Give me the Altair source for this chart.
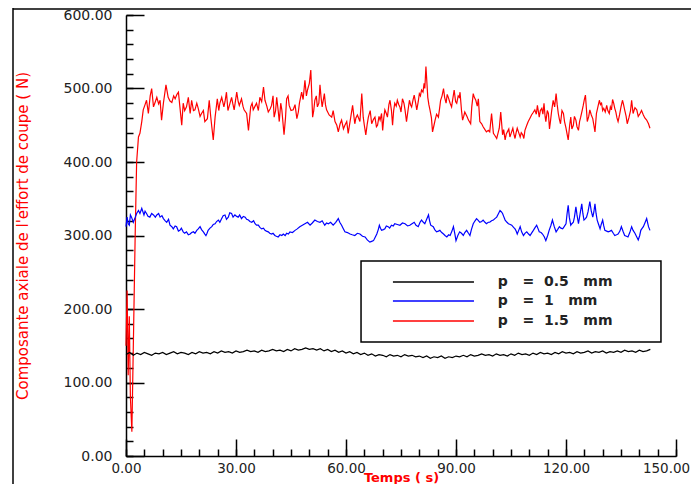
import altair as alt
import pandas as pd

# ---------------- data ----------------
red_t = [0.0,0.3,0.6,0.9,1.2,1.6,2.1,2.5,2.9,3.4,3.8,4.3,4.7,5.2,5.6,6.1,6.6,7.0,7.5,8.0,8.4,8.9,9.3,9.7,10.2,10.9,11.5,12.0,12.5,13.0,13.4,13.9,14.3,14.7,15.2,15.6,16.0,16.5,17.0,17.5,17.9,18.4,18.8,19.3,19.7,20.2,20.6,21.1,21.5,22.2,22.7,23.1,23.4,23.8,24.3,24.9,25.3,25.6,26.1,26.7,27.0,27.4,27.8,28.2,28.8,29.1,29.5,30.2,30.6,30.9,31.5,31.9,32.2,32.9,33.4,34.0,34.4,34.7,35.2,35.6,36.1,36.5,37.0,37.5,37.9,38.4,38.8,39.3,39.7,40.1,40.4,40.8,41.1,41.5,41.8,42.2,42.5,43.1,43.5,43.8,44.2,44.5,45.0,45.6,46.1,46.6,47.0,47.3,47.9,48.3,48.8,49.2,49.5,50.0,50.4,50.9,51.2,51.5,51.9,52.2,52.6,52.9,53.2,53.5,54.1,54.4,54.7,55.4,56.1,56.5,57.0,57.5,57.9,58.4,58.8,59.3,59.7,60.2,60.6,61.3,61.8,62.4,62.7,63.1,63.8,64.3,64.7,65.0,65.4,65.8,66.1,66.6,67.0,67.5,67.9,68.3,68.6,69.0,69.3,69.7,70.0,70.3,70.6,71.0,71.3,71.7,72.0,72.4,72.7,73.0,73.3,73.7,74.0,74.4,74.7,75.0,75.4,75.8,76.1,76.5,76.9,77.3,77.6,77.9,78.3,78.6,79.0,79.3,79.7,80.0,80.3,80.6,81.0,81.3,81.5,81.8,82.1,82.3,82.6,82.9,83.3,83.6,84.0,84.3,84.7,85.2,85.5,85.8,86.2,86.6,86.9,87.3,87.6,87.9,88.4,88.8,89.1,89.5,89.9,90.2,90.6,90.9,91.1,91.5,91.8,92.1,92.4,93.0,93.4,94.0,94.3,94.7,95.0,95.4,95.8,96.1,96.5,97.0,97.4,97.9,98.3,98.8,99.2,99.7,100.2,100.6,101.1,101.5,101.8,102.2,102.7,103.0,103.4,103.7,104.0,104.4,104.7,105.1,105.5,105.8,106.1,106.4,106.7,107.1,107.5,107.8,108.2,108.5,108.8,109.3,109.7,110.2,110.6,111.0,111.5,111.9,112.2,112.7,113.0,113.4,113.7,114.0,114.3,114.5,114.9,115.2,115.5,115.8,116.1,116.5,116.9,117.3,117.6,117.9,118.2,118.5,118.9,119.3,119.6,120.0,120.3,120.6,121.0,121.3,121.6,122.0,122.3,122.7,123.0,123.4,123.7,124.0,124.4,124.7,125.0,125.3,125.6,125.8,126.2,126.5,126.9,127.3,127.6,127.9,128.3,128.7,129.1,129.4,129.7,130.0,130.3,130.7,131.1,131.4,131.8,132.1,132.4,132.7,133.0,133.3,133.6,133.9,134.2,134.6,135.0,135.4,135.7,136.0,136.4,136.7,137.2,137.6,137.9,138.3,138.8,139.3,139.7,140.2,140.6,141.1,141.5,142.0,142.5,142.9]
red_v = [150,225,110,190,80,33,180,300,400,434,439,455,471,478,484,466,490,500,475,482,488,479,484,457,480,505,488,483,481,490,486,492,495,475,450,480,470,475,488,466,484,470,471,480,473,462,466,470,455,459,484,462,448,430,461,486,470,480,488,475,482,495,470,477,488,480,471,495,482,477,486,476,471,466,443,475,480,471,476,480,470,488,482,502,484,476,468,472,477,490,461,470,488,470,455,480,471,437,460,486,490,477,470,471,478,459,468,480,495,485,511,490,498,507,525,461,470,484,490,475,480,505,488,475,493,478,471,464,461,470,455,450,441,452,457,445,450,455,439,461,477,452,460,464,455,493,461,450,437,452,461,470,452,458,461,448,450,462,457,466,443,460,471,466,461,478,484,470,450,470,480,476,484,478,475,468,486,480,471,455,470,484,478,475,485,491,480,471,482,493,490,498,495,507,500,530,505,488,478,471,460,441,450,457,465,461,472,484,490,500,488,480,492,488,480,475,485,498,482,480,490,488,495,470,457,462,468,462,457,452,475,493,488,484,476,486,455,452,448,444,441,443,441,466,439,436,432,440,446,468,437,444,430,438,441,445,434,440,446,438,432,440,446,440,434,440,437,432,443,450,455,460,464,467,471,465,477,461,470,473,465,480,462,455,470,466,445,457,470,484,475,493,478,466,458,452,470,466,455,446,438,430,450,461,445,450,462,457,448,443,455,461,470,477,485,491,470,455,462,471,464,459,450,441,466,475,484,478,480,470,473,468,477,470,466,475,471,485,480,473,468,460,455,464,475,484,478,471,462,452,461,470,484,466,474,471,462,466,470,464,460,457,452,446]

blue_t = [0.0,0.3,0.6,0.9,1.2,1.5,2.0,2.4,2.9,3.4,3.8,4.3,4.9,5.2,5.6,6.0,6.5,7.0,7.5,8.0,8.4,8.9,9.3,9.8,10.2,10.7,11.1,11.6,12.0,12.5,12.9,13.4,13.8,14.3,14.7,15.1,15.6,16.0,16.5,17.0,17.5,17.9,18.4,18.8,19.3,19.7,20.2,20.6,21.1,21.5,21.8,22.1,22.4,22.9,23.4,23.8,24.3,24.7,25.2,25.6,26.1,26.5,27.0,27.4,27.9,28.3,28.8,29.2,29.7,30.2,30.6,31.0,31.5,32.0,32.5,32.9,33.4,33.8,34.3,34.8,35.2,35.6,36.1,36.5,37.0,37.5,37.9,38.3,38.8,39.2,39.7,40.1,40.6,41.0,41.5,42.0,42.5,42.9,43.4,43.8,44.3,44.7,45.4,46.1,46.7,47.4,48.1,48.8,49.5,50.2,50.8,51.5,52.2,52.9,53.5,54.2,54.7,55.2,55.8,56.5,57.2,57.9,58.3,58.8,59.2,59.7,60.4,61.1,61.7,62.4,63.1,63.8,64.5,65.2,65.8,66.5,67.0,67.5,67.9,68.4,68.8,69.1,69.4,69.7,70.2,70.6,71.0,71.5,71.9,72.4,72.9,73.3,74.0,74.7,75.4,76.1,76.8,77.4,78.0,78.6,79.1,79.7,80.2,80.6,81.1,81.5,82.0,82.5,82.8,83.1,83.8,84.2,84.7,85.2,85.6,86.1,86.6,87.0,87.5,88.0,88.4,88.9,89.3,89.7,90.0,90.5,91.0,91.5,92.0,92.4,92.9,93.4,93.8,94.2,94.7,95.2,95.6,96.0,96.5,97.0,97.4,97.9,98.3,98.8,99.2,99.7,100.2,100.6,101.1,101.6,102.0,102.4,102.7,103.0,103.4,103.9,104.3,104.8,105.2,105.7,106.1,106.4,106.7,107.1,107.5,107.9,108.4,108.8,109.3,109.8,110.2,110.7,111.1,111.6,112.0,112.4,112.7,113.2,113.6,114.1,114.5,115.0,115.4,115.9,116.3,116.8,117.3,117.7,118.2,118.6,119.1,119.5,120.0,120.3,120.6,120.9,121.3,121.6,122.0,122.3,122.7,123.0,123.4,123.8,124.3,124.6,124.9,125.3,125.6,126.0,126.5,126.9,127.3,127.6,127.9,128.2,128.5,128.9,129.3,129.6,130.0,130.3,130.6,131.1,131.5,132.0,132.4,132.9,133.3,133.8,134.2,134.7,135.1,135.6,136.0,136.5,136.9,137.4,137.9,138.3,138.8,139.3,139.7,140.1,140.4,140.8,141.1,141.6,142.0,142.5,142.9]
blue_v = [312,325,316,314,328,325,318,323,330,334,330,337,328,333,330,326,325,330,328,325,328,330,325,327,323,320,318,322,314,312,309,313,312,306,307,310,305,303,305,301,302,304,305,303,307,309,312,308,305,302,300,303,307,310,312,315,316,319,321,318,323,327,328,322,325,331,330,325,328,326,325,328,323,326,325,322,321,319,318,320,316,314,314,311,309,310,307,306,305,303,302,303,300,299,298,301,300,302,300,303,302,305,304,307,309,312,314,316,318,314,317,321,319,318,320,314,317,316,318,314,318,323,318,314,310,305,304,302,301,300,303,302,299,298,294,291,292,293,297,302,308,314,310,307,308,309,313,312,310,314,313,316,315,314,317,316,313,314,316,318,314,312,318,321,318,316,322,328,320,314,312,308,305,306,307,304,302,300,298,301,300,306,312,302,293,300,305,303,300,304,307,303,300,308,316,320,323,321,318,319,321,318,316,318,318,320,321,323,325,330,334,332,330,326,321,318,316,315,314,311,309,306,302,307,312,305,300,303,305,302,300,304,307,311,314,309,305,304,302,298,293,300,307,314,321,312,305,308,312,310,309,312,316,330,341,325,314,316,318,325,339,328,316,328,343,330,321,323,325,332,346,333,325,332,343,330,321,315,309,315,321,313,307,306,305,306,307,303,300,301,302,306,312,305,300,299,298,304,312,307,303,298,294,300,307,310,312,318,323,312,307]

black_t = list(range(0, 144))
black_v = [138,141,137,140,138,141,139,137,140,139,141,138,140,142,139,141,140,138,141,139,142,140,141,139,142,140,143,141,142,140,143,141,142,144,142,143,141,144,142,143,145,143,144,142,145,143,146,144,145,147,145,146,144,146,143,145,142,144,141,143,140,142,139,141,138,140,137,139,136,138,137,135,138,136,137,135,138,136,137,135,136,134,136,133,135,134,136,133,135,134,136,135,137,135,138,136,137,139,137,138,136,139,137,138,136,139,137,140,138,139,137,140,138,141,139,140,138,141,139,142,140,141,139,142,140,141,143,140,142,141,143,140,142,141,143,141,144,142,143,141,144,142,143,145]

x_ticks = [0, 30, 60, 90, 120, 150]
y_ticks = [0, 100, 200, 300, 400, 500, 600]
x_minor = list(range(0, 151, 5))
y_minor = list(range(0, 601, 20))

legend_labels = ["p\u00a0\u00a0\u00a0=\u00a0\u00a00.5\u00a0\u00a0\u00a0mm", "p\u00a0\u00a0\u00a0=\u00a0\u00a01\u00a0\u00a0\u00a0mm", "p\u00a0\u00a0\u00a0=\u00a0\u00a01.5\u00a0\u00a0\u00a0mm"]
legend_colors = ["#000000", "#0000ff", "#ff0000"]
legend_keys = ["a", "b", "c"]
legend_v = [236.7, 210.9, 183.7]
legend_x1 = [72.8, 72.8, 72.8]
legend_x2 = [94.9, 94.9, 94.9]
legend_tx = [101.4, 101.4, 101.4]
box_t = [64.1]
box_t2 = [145.9]
box_v = [155.1]
box_v2 = [265.3]

# ---------------- chart ----------------
W, H = 550, 441
xs = alt.Scale(domain=[0, 150], nice=False, zero=False)
ys = alt.Scale(domain=[0, 600], nice=False, zero=False)

red_df = pd.DataFrame({"t": red_t, "v": red_v})
blue_df = pd.DataFrame({"t": blue_t, "v": blue_v})
black_df = pd.DataFrame({"t": black_t, "v": black_v})
leg_df = pd.DataFrame({"k": legend_keys, "lab": legend_labels, "v": legend_v,
                       "x1": legend_x1, "x2": legend_x2, "tx": legend_tx})
box_df = pd.DataFrame({"t": box_t, "t2": box_t2, "v": box_v, "v2": box_v2})

font = "DejaVu Sans"

x_label_axis = alt.Axis(orient="bottom", values=x_ticks, format=".2f", ticks=False, tickSize=0,
                        domain=True, domainColor="black", domainWidth=1.5, grid=False,
                        labelFont=font, labelFontSize=13.5, labelColor="#222222", labelPadding=5,
                        labelFlush=False, labelOverlap=False,
                        labelOffset={"condition": {"test": "datum.value == 150", "value": -10}, "value": 0},
                        title="Temps ( s)", titleColor="#ff0000", titleFont=font, titleFontSize=13,
                        titleFontWeight="bold", titleX=275, titleY=28, titleAlign="center",
                        titleBaseline="bottom", titleAngle=0)
y_label_axis = alt.Axis(orient="left", values=y_ticks, format=".2f", ticks=False, tickSize=0,
                        domain=True, domainColor="black", domainWidth=1.5, grid=False,
                        labelFont=font, labelFontSize=14, labelColor="#222222", labelPadding=14,
                        labelFlush=False, labelOverlap=False,
                        title="Composante axiale de l'effort de coupe ( N)", titleColor="#ff0000",
                        titleFont=font, titleFontSize=15, titleFontWeight="normal",
                        titleX=-104, titleY=220.5, titleAngle=270, titleAlign="center",
                        titleBaseline="middle")
x_major_axis = alt.Axis(orient="top", offset=-H, values=x_ticks, labels=False, domain=False,
                        ticks=True, tickSize=17, tickColor="black", tickWidth=1.5, grid=False, title=None)
y_major_axis = alt.Axis(orient="right", offset=-W, values=y_ticks, labels=False, domain=False,
                        ticks=True, tickSize=18, tickColor="black", tickWidth=1.5, grid=False, title=None)
x_minor_axis = alt.Axis(orient="top", offset=-H, values=x_minor, labels=False, domain=False,
                        ticks=True, tickSize=7, tickColor="black", tickWidth=1.5, grid=False, title=None)
y_minor_axis = alt.Axis(orient="right", offset=-W, values=y_minor, labels=False, domain=False,
                        ticks=True, tickSize=7, tickColor="black", tickWidth=1.5, grid=False, title=None)

red = alt.Chart(red_df).mark_line(color="#ff0000", strokeWidth=1.2).encode(
    x=alt.X("t:Q", scale=xs, axis=x_label_axis),
    y=alt.Y("v:Q", scale=ys, axis=y_label_axis),
)
blue = alt.Chart(blue_df).mark_line(color="#0000ff", strokeWidth=1.2).encode(
    x=alt.X("t:Q", scale=xs, axis=x_major_axis),
    y=alt.Y("v:Q", scale=ys, axis=y_major_axis),
)
black = alt.Chart(black_df).mark_line(color="#000000", strokeWidth=1.2).encode(
    x=alt.X("t:Q", scale=xs, axis=x_minor_axis),
    y=alt.Y("v:Q", scale=ys, axis=y_minor_axis),
)

box = alt.Chart(box_df).mark_rect(fill="white", stroke="black", strokeWidth=1.5).encode(
    x=alt.X("t:Q", scale=xs, axis=None), x2="t2:Q",
    y=alt.Y("v:Q", scale=ys, axis=None), y2="v2:Q",
)
leg_lines = alt.Chart(leg_df).mark_rule(strokeWidth=1.5).encode(
    x=alt.X("x1:Q", scale=xs, axis=None), x2="x2:Q",
    y=alt.Y("v:Q", scale=ys, axis=None),
    color=alt.Color("k:N", scale=alt.Scale(domain=legend_keys, range=legend_colors), legend=None),
)
leg_text = alt.Chart(leg_df).mark_text(align="left", baseline="middle", font=font,
                                       fontWeight="bold", fontSize=14, color="#222222").encode(
    x=alt.X("tx:Q", scale=xs, axis=None),
    y=alt.Y("v:Q", scale=ys, axis=None),
    text="lab:N",
)

frame_df = pd.DataFrame({"a": [0]})
frame_left = alt.Chart(frame_df).mark_rule(color="black", strokeWidth=1.5).encode(
    x=alt.value(-113), y=alt.value(-8), y2=alt.value(480))
frame_top = alt.Chart(frame_df).mark_rule(color="black", strokeWidth=1.5).encode(
    x=alt.value(-113), x2=alt.value(580), y=alt.value(-6))

chart = alt.layer(red, blue, black, box, leg_lines, leg_text, frame_left, frame_top).resolve_axis(
    x="independent", y="independent"
).properties(
    width=W, height=H,
    autosize=alt.AutoSizeParams(type="none"),
    padding={"left": 118, "top": 7, "right": 15, "bottom": 28},
    background="white",
).configure_view(stroke=None)

chart.save("out.html", embed_options={"renderer": "svg", "actions": False})
